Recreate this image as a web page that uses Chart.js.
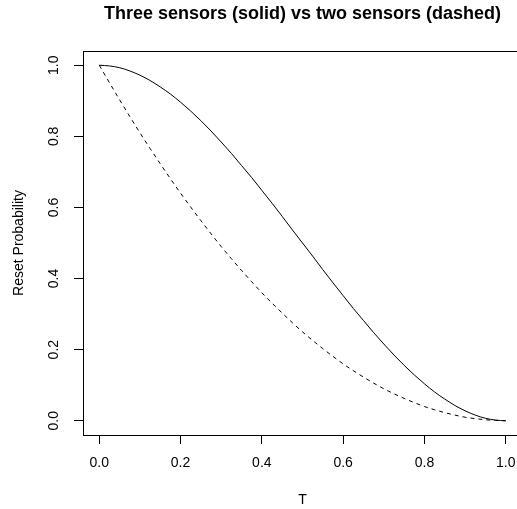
<!DOCTYPE html>
<html>
<head>
<meta charset="utf-8">
<script src="https://cdn.jsdelivr.net/npm/chart.js@4"></script>
<style>
  html, body { margin: 0; padding: 0; overflow: hidden; background: #fff; }
  #myChart { display: block; }
</style>
</head>
<body>
<canvas id="myChart" width="605" height="509"></canvas>
<script>
// values
const tValues = [0, 0.025, 0.05, 0.075, 0.1, 0.125, 0.15, 0.175, 0.2, 0.225, 0.25,
  0.275, 0.3, 0.325, 0.35, 0.375, 0.4, 0.425, 0.45, 0.475, 0.5,
  0.525, 0.55, 0.575, 0.6, 0.625, 0.65, 0.675, 0.7, 0.725, 0.75,
  0.775, 0.8, 0.825, 0.85, 0.875, 0.9, 0.925, 0.95, 0.975, 1];
const threeSensors = [1, 0.998, 0.993, 0.984, 0.972, 0.957, 0.939, 0.919, 0.896, 0.871, 0.844,
  0.815, 0.784, 0.752, 0.718, 0.684, 0.648, 0.612, 0.575, 0.537, 0.5,
  0.463, 0.425, 0.388, 0.352, 0.316, 0.282, 0.248, 0.216, 0.185, 0.156,
  0.129, 0.104, 0.081, 0.061, 0.043, 0.028, 0.016, 0.007, 0.002, 0];
const twoSensors = [1, 0.951, 0.903, 0.856, 0.81, 0.766, 0.723, 0.681, 0.64, 0.601, 0.563,
  0.526, 0.49, 0.456, 0.423, 0.391, 0.36, 0.331, 0.303, 0.276, 0.25,
  0.226, 0.203, 0.181, 0.16, 0.141, 0.123, 0.106, 0.09, 0.076, 0.063,
  0.051, 0.04, 0.031, 0.023, 0.016, 0.01, 0.006, 0.003, 0.001, 0];
const tickValues = [0, 0.2, 0.4, 0.6, 0.8, 1];

const font = "'Liberation Sans', Arial, Helvetica, sans-serif";

chart();

function chart() {
  const ctx = document.getElementById("myChart");

  // R-style box round the plot region
  const boxPlugin = {
    id: "box",
    afterDraw(c) {
      const a = c.chartArea;
      const g = c.ctx;
      g.save();
      g.strokeStyle = "#000";
      g.lineWidth = 1;
      g.strokeRect(Math.round(a.left) + 0.5, Math.round(a.top) + 0.5,
        Math.round(a.right - a.left), Math.round(a.bottom - a.top));
      g.restore();
    },
  };

  const fixTicks = (scale) => {
    scale.ticks = tickValues.map((v) => ({ value: v }));
  };

  new Chart(ctx, {
    type: "line",
    data: {
      datasets: [
        {
          label: "Three sensors",
          data: tValues.map((t, i) => ({ x: t, y: threeSensors[i] })),
          borderColor: "#000",
          borderWidth: 1,
          pointRadius: 0,
          cubicInterpolationMode: "monotone",
        },
        {
          label: "Two sensors",
          data: tValues.map((t, i) => ({ x: t, y: twoSensors[i] })),
          borderColor: "#000",
          borderWidth: 1,
          borderDash: [4, 4],
          pointRadius: 0,
          cubicInterpolationMode: "monotone",
        },
      ],
    },
    options: {
      responsive: false,
      animation: false,
      layout: { padding: 0 },
      plugins: {
        legend: { display: false },
        tooltip: { enabled: false },
        title: {
          display: true,
          text: "Three sensors (solid) vs two sensors (dashed)",
          color: "#000",
          font: { family: font, size: 18, weight: "bold", lineHeight: 1.2 },
          padding: { top: 3.2, bottom: 26.2 },
        },
      },
      scales: {
        x: {
          type: "linear",
          min: -0.04,
          max: 1.04,
          afterBuildTicks: fixTicks,
          afterFit: (s) => { s.height = 74; },
          grid: { display: true, drawOnChartArea: false, drawTicks: true, tickLength: 9, color: "#000" },
          border: { display: true, color: "#000" },
          ticks: {
            color: "#000",
            font: { family: font, size: 14 },
            padding: 10.6,
            maxRotation: 0,
            callback: (v) => v.toFixed(1),
          },
          title: {
            display: true,
            text: "T",
            color: "#000",
            font: { family: font, size: 14, lineHeight: 1.2 },
            padding: { top: 0, bottom: 0.6 },
          },
        },
        y: {
          min: -0.04,
          max: 1.04,
          afterBuildTicks: fixTicks,
          afterFit: (s) => { s.width = 83; },
          grid: { display: true, drawOnChartArea: false, drawTicks: true, tickLength: 9, color: "#000" },
          border: { display: true, color: "#000" },
          ticks: {
            color: "#000",
            font: { family: font, size: 14 },
            padding: 10.25,
            minRotation: 90,
            maxRotation: 90,
            crossAlign: "center",
            callback: (v) => v.toFixed(1),
          },
          title: {
            display: true,
            text: "Reset Probability",
            color: "#000",
            font: { family: font, size: 14, lineHeight: 1.2 },
            padding: { top: 10.6, bottom: 0 },
          },
        },
        // empty right-hand axis so the title centres over the plot box
        y2: {
          position: "right",
          display: true,
          afterFit: (s) => { s.width = 83; },
          grid: { display: false },
          border: { display: false },
          ticks: { display: false },
        },
      },
    },
    plugins: [boxPlugin],
  });
}
</script>
</body>
</html>
